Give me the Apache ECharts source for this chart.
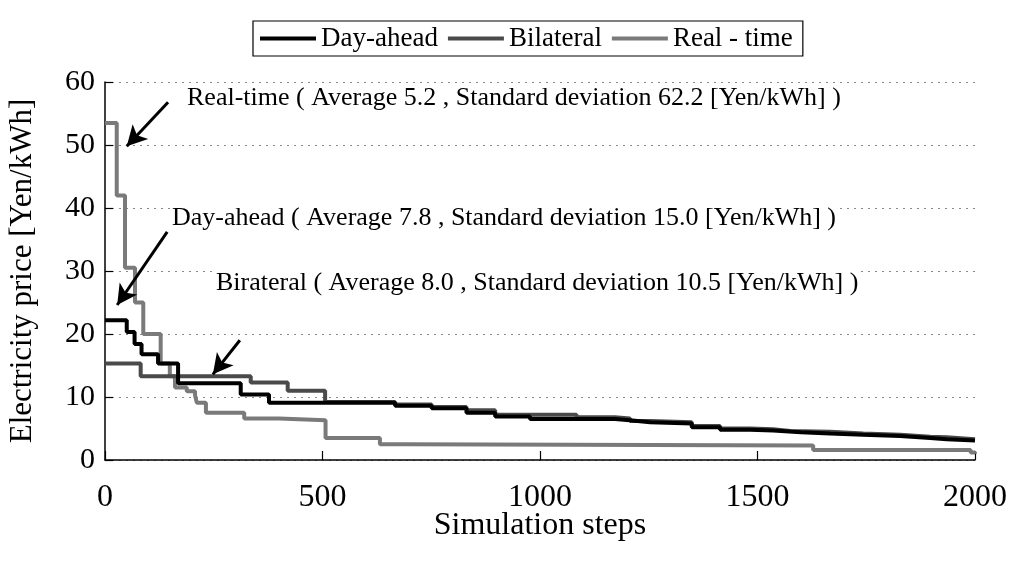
<!DOCTYPE html>
<html>
<head>
<meta charset="utf-8">
<script src="https://cdn.jsdelivr.net/npm/echarts@6/dist/echarts.min.js"></script>
<style>
html,body{margin:0;padding:0;background:#fff;}
#chart{width:1011px;height:564px;}
</style>
</head>
<body>
<div id="chart"></div>
<script>
// ---- data (step start, price held until next step) ----
const seriesNames = ['Day-ahead', 'Bilateral', 'Real - time'];

const dayAheadSteps = [0, 50, 68, 84, 122, 168, 312, 377, 667, 751, 831, 897, 977, 1172, 1207, 1253, 1349, 1414, 1483, 1536, 1600, 1667, 1743, 1828, 1897, 1935, 2000];
const dayAheadPrice = [22.2, 20.3, 18.4, 16.8, 15.3, 12.2, 10.4, 9.1, 8.6, 8.2, 7.5, 6.9, 6.5, 6.3, 6.0, 5.8, 5.2, 4.8, 4.7, 4.4, 4.2, 4.0, 3.8, 3.5, 3.3, 3.1, 3.0];

const bilateralSteps = [0, 82, 335, 420, 506, 667, 751, 831, 897, 1084, 1172, 1207, 1253, 1349, 1414, 1483, 1536, 1575, 1667, 1743, 1828, 1897, 1935, 2000];
const bilateralPrice = [15.3, 13.3, 12.3, 11.0, 9.2, 8.8, 8.4, 7.9, 7.2, 6.8, 6.6, 6.2, 6.0, 5.4, 5.0, 4.9, 4.6, 4.5, 4.2, 4.0, 3.7, 3.6, 3.3, 3.2];

const realTimeSteps = [0, 27, 46, 69, 88, 128, 149, 161, 188, 207, 211, 232, 320, 400, 507, 632, 693, 1628, 1990, 2000];
const realTimePrice = [53.5, 42, 30.5, 25, 20, 15.3, 13.3, 11.5, 10.9, 10.3, 9.1, 7.5, 6.6, 6.3, 3.5, 2.5, 2.3, 1.6, 1.2, 1.0];

const xTicks = [0, 500, 1000, 1500, 2000];
const yTicks = [0, 10, 20, 30, 40, 50, 60];

const annotationTexts = [
  'Real-time ( Average 5.2 , Standard deviation 62.2 [Yen/kWh] )',
  'Day-ahead ( Average 7.8 , Standard deviation 15.0 [Yen/kWh] )',
  'Birateral ( Average 8.0 , Standard deviation 10.5 [Yen/kWh] )'
];
// arrow [tail, head] in data coordinates (steps, price)
const arrowTails = [[145, 56.8], [143, 36.2], [310, 19.0]];
const arrowHeads = [[50, 49.8], [28, 24.6], [248, 13.6]];

// ---- build ----
const zip = (xs, ys) => xs.map((x, i) => [x, ys[i]]);
const FONT = 'Liberation Serif';

const chart = echarts.init(document.getElementById('chart'), null, {renderer: 'canvas'});

const option = {
  backgroundColor: '#fff',
  animation: false,
  textStyle: {fontFamily: FONT},
  grid: {left: 105, right: 36, top: 82, bottom: 104, containLabel: false, outerBoundsMode: 'none'},
  legend: {
    data: seriesNames,
    left: 253, top: 21,
    padding: [4, 10, 4, 7],
    itemGap: 10,
    itemWidth: 56,
    itemHeight: 4,
    icon: 'rect',
    borderColor: '#000',
    borderWidth: 1.2,
    textStyle: {fontFamily: FONT, fontSize: 27, color: '#000'}
  },
  xAxis: {
    type: 'value', min: 0, max: 2000, interval: 500,
    name: 'Simulation steps', nameLocation: 'middle', nameGap: 50, nameMoveOverlap: false,
    nameTextStyle: {fontFamily: FONT, fontSize: 32, color: '#000'},
    axisLine: {show: true, lineStyle: {color: '#000', width: 1.5}},
    axisTick: {show: true, inside: true, length: 9, lineStyle: {color: '#000', width: 1.2}},
    axisLabel: {fontFamily: FONT, fontSize: 32, color: '#000', margin: 22,
      formatter: v => String(v)},
    splitLine: {show: false}
  },
  yAxis: {
    type: 'value', min: 0, max: 60, interval: 10,
    name: 'Electricity price [Yen/kWh]', nameLocation: 'middle', nameGap: 67, nameMoveOverlap: false,
    nameTextStyle: {fontFamily: FONT, fontSize: 31, color: '#000'},
    axisLine: {show: true, lineStyle: {color: '#000', width: 1.5}},
    axisTick: {show: true, inside: true, length: 8, lineStyle: {color: '#000', width: 1.2}},
    axisLabel: {fontFamily: FONT, fontSize: 30, color: '#000', margin: 10,
      formatter: v => String(v)},
    splitLine: {show: true, lineStyle: {color: '#888', width: 1, type: [2, 5]}}
  },
  series: [
    {
      name: seriesNames[0], type: 'line', step: 'end', symbol: 'none', showSymbol: false, z: 5,
      data: zip(dayAheadSteps, dayAheadPrice),
      lineStyle: {color: '#000', width: 4},
      itemStyle: {color: '#000'},
      markLine: {
        silent: true, symbol: ['none', 'arrow'], symbolSize: [16, 20], animation: false,
        label: {show: false},
        lineStyle: {color: '#000', width: 3, type: 'solid'},
        data: arrowTails.map((t, i) => [{coord: t}, {coord: arrowHeads[i]}])
      }
    },
    {
      name: seriesNames[1], type: 'line', step: 'end', symbol: 'none', showSymbol: false, z: 4,
      data: zip(bilateralSteps, bilateralPrice),
      lineStyle: {color: '#4a4a4a', width: 4},
      itemStyle: {color: '#4a4a4a'}
    },
    {
      name: seriesNames[2], type: 'line', step: 'end', symbol: 'none', showSymbol: false, z: 3,
      data: zip(realTimeSteps, realTimePrice),
      lineStyle: {color: '#7a7a7a', width: 4},
      itemStyle: {color: '#7a7a7a'}
    }
  ],
  graphic: [
    {type: 'text', x: 185, y: 98, z: 10,
      style: {text: annotationTexts[0], font: '26px "Liberation Serif"', fill: '#000', verticalAlign: 'middle', backgroundColor: '#fff', padding: [2, 2]}},
    {type: 'text', x: 170, y: 218, z: 10,
      style: {text: annotationTexts[1], font: '26px "Liberation Serif"', fill: '#000', verticalAlign: 'middle', backgroundColor: '#fff', padding: [2, 2]}},
    {type: 'text', x: 214, y: 283, z: 10,
      style: {text: annotationTexts[2], font: '26px "Liberation Serif"', fill: '#000', verticalAlign: 'middle', backgroundColor: '#fff', padding: [2, 2]}}
  ]
};
chart.setOption(option);
</script>
</body>
</html>
